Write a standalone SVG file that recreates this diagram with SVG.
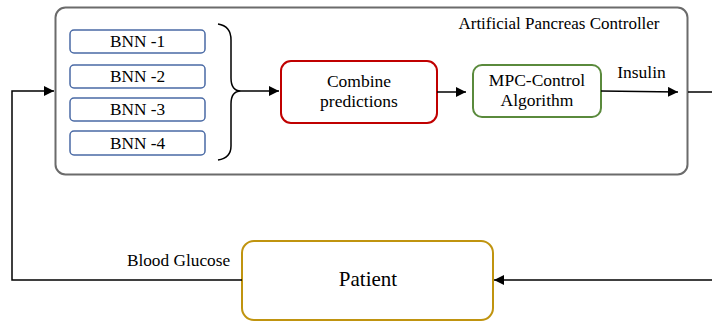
<svg xmlns="http://www.w3.org/2000/svg" width="712" height="322" viewBox="0 0 712 322" font-family="'Liberation Serif', 'Times New Roman', serif">
<defs>
<marker id="ah" viewBox="0 0 10 10" refX="10" refY="5" markerWidth="10" markerHeight="10" markerUnits="userSpaceOnUse" orient="auto">
<path d="M0,0 L10,5 L0,10 z" fill="#000"/>
</marker>
<style>
text{fill:#000;text-anchor:middle}
.bnn{fill:#fff;stroke:#4a6aa5;stroke-width:1.5}
.ln{fill:none;stroke:#000;stroke-width:1.5}
.t15{font-size:17.3px}
.t14{font-size:17.5px}
</style>
</defs>
<rect width="712" height="322" fill="#fff"/>
<g id="controller">
<rect x="55.5" y="7.5" width="632" height="167" rx="10" fill="#fff" stroke="#6b6b6b" stroke-width="2"/>
<text x="559" y="29" class="t14" style="font-size:17px">Artificial Pancreas Controller</text>
</g>
<g id="bnn1"><rect class="bnn" x="70" y="30" width="135" height="23" rx="4"/><text x="137.5" y="47" class="t15">BNN -1</text></g>
<g id="bnn2"><rect class="bnn" x="70" y="65" width="135" height="23" rx="4"/><text x="137.5" y="82" class="t15">BNN -2</text></g>
<g id="bnn3"><rect class="bnn" x="70" y="98" width="135" height="23" rx="4"/><text x="137.5" y="115" class="t15">BNN -3</text></g>
<g id="bnn4"><rect class="bnn" x="70" y="131" width="135" height="24" rx="4"/><text x="137.5" y="149" class="t15">BNN -4</text></g>
<g id="brace">
<path class="ln" d="M218,24 Q231,26 231,40 L231,78 Q231,91 241,91 Q231,91 231,104 L231,146 Q231,158 218,160"/>
</g>
<g id="combine">
<rect x="281" y="61" width="156" height="62" rx="10" fill="#fff" stroke="#c00000" stroke-width="2"/>
<text x="359" y="86.5" class="t14">Combine</text>
<text x="359" y="106.5" class="t14">predictions</text>
</g>
<g id="mpc">
<rect x="473" y="65" width="128" height="52" rx="9" fill="#fff" stroke="#5a8a3c" stroke-width="2"/>
<text x="537" y="86" class="t14">MPC-Control</text>
<text x="537" y="106" class="t14">Algorithm</text>
</g>
<g id="patient">
<rect x="242" y="241" width="251" height="79" rx="12" fill="#fff" stroke="#c0940f" stroke-width="2"/>
<text x="368" y="286" style="font-size:21px">Patient</text>
</g>
<g id="connectors">
<path class="ln" d="M241,91 L279,91" marker-end="url(#ah)"/>
<path class="ln" d="M437,92 L466,92" marker-end="url(#ah)"/>
<path class="ln" d="M601,91 L678,92" marker-end="url(#ah)"/>
<path class="ln" d="M688,92 L712,92"/>
<path class="ln" d="M712,280 L494,280" marker-end="url(#ah)"/>
<path class="ln" d="M242,280 L12,280 L12,91 L54,91" marker-end="url(#ah)"/>
<text x="641.5" y="78" class="t14">Insulin</text>
<text x="178.5" y="266" style="font-size:17.3px">Blood Glucose</text>
</g>
</svg>
